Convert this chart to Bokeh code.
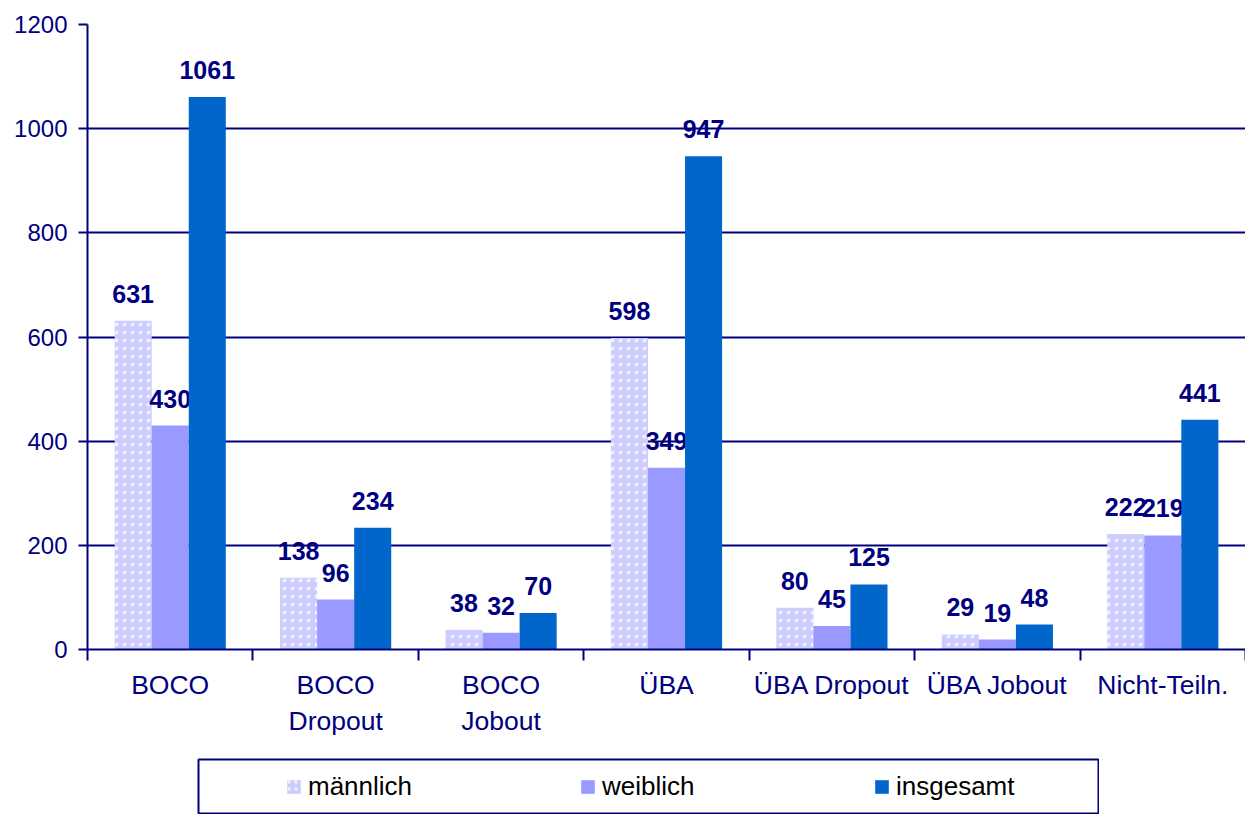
from bokeh.plotting import figure
from bokeh.models import ColumnDataSource, FixedTicker, Range1d, Legend, LegendItem, Spacer
from bokeh.layouts import column, row
from bokeh.embed import file_html
from bokeh.resources import INLINE
from bokeh.core.properties import value

# ---------------- data ----------------
categories = ["BOCO", "BOCO\nDropout", "BOCO\nJobout", "ÜBA", "ÜBA Dropout", "ÜBA Jobout", "Nicht-Teiln."]
maennlich = [631, 138, 38, 598, 80, 29, 222]
weiblich = [430, 96, 32, 349, 45, 19, 219]
insgesamt = [1061, 234, 70, 947, 125, 48, 441]
series_names = ["männlich", "weiblich", "insgesamt"]
y_ticks = [0, 200, 400, 600, 800, 1000, 1200]

# ---------------- style ----------------
NAVY = "#000080"
COLORS = ["#CCCCFF", "#9999FF", "#0066CC"]
FONT = "Liberation Sans"
BAR_W = 0.224
OFFSETS = [-BAR_W, 0.0, BAR_W]
HATCH = dict(hatch_pattern="dot", hatch_color="white", hatch_scale=8, hatch_weight=1.0, hatch_alpha=0.7)

centers = [i + 0.5 for i in range(len(categories))]

p = figure(width=1245, height=758, output_backend="svg", toolbar_location=None,
           x_range=Range1d(0, len(categories)), y_range=Range1d(0, 1200),
           min_border_left=87, min_border_right=0, min_border_top=24, min_border_bottom=109)
p.outline_line_color = None
p.background_fill_color = "white"
p.border_fill_color = "white"

series = [maennlich, weiblich, insgesamt]
for k, vals in enumerate(series):
    xs = [c + OFFSETS[k] for c in centers]
    src = ColumnDataSource(dict(x=xs, top=vals, lab=[str(v) for v in vals]))
    kw = HATCH if k == 0 else {}
    p.vbar(x="x", top="top", width=BAR_W, source=src, fill_color=COLORS[k], line_color=None, **kw)
    p.text(x="x", y="top", text="lab", source=src, text_align="center", text_baseline="alphabetic",
           y_offset=-27, text_font=value(FONT), text_font_size="25px", text_font_style="bold",
           text_color=NAVY)

# x axis: labels at centers, minor ticks at category boundaries
xa = p.xaxis[0]
xa.ticker = FixedTicker(ticks=centers, minor_ticks=list(range(len(categories) + 1)))
xa.major_label_overrides = {c: lab for c, lab in zip(centers, categories)}
xa.major_tick_line_color = None
xa.minor_tick_out = 11
xa.minor_tick_in = 0
xa.minor_tick_line_color = NAVY
xa.minor_tick_line_width = 2
xa.axis_line_color = NAVY
xa.axis_line_width = 2
xa.major_label_text_color = NAVY
xa.major_label_text_font = FONT
xa.major_label_text_font_size = "26.5px"
xa.major_label_standoff = 9
xa.major_label_orientation = "horizontal"

ya = p.yaxis[0]
ya.ticker = FixedTicker(ticks=y_ticks, minor_ticks=[])
ya.major_tick_out = 9
ya.major_tick_in = 0
ya.major_tick_line_color = NAVY
ya.major_tick_line_width = 2
ya.axis_line_color = NAVY
ya.axis_line_width = 2
ya.major_label_text_color = NAVY
ya.major_label_text_font = FONT
ya.major_label_text_font_size = "24px"
ya.major_label_standoff = 11

p.xgrid.grid_line_color = None
p.ygrid.ticker = FixedTicker(ticks=y_ticks)
p.ygrid.grid_line_color = NAVY
p.ygrid.grid_line_width = 2

# ---------------- legend panel ----------------
p2 = figure(width=902, height=56, output_backend="svg", toolbar_location=None,
            x_range=Range1d(0, 1), y_range=Range1d(0, 1), x_axis_type=None, y_axis_type=None,
            min_border_left=1, min_border_right=1, min_border_top=1, min_border_bottom=1)
p2.outline_line_color = NAVY
p2.outline_line_width = 2
p2.xgrid.visible = False
p2.ygrid.visible = False
items = []
for k, name in enumerate(series_names):
    kw = dict(HATCH, hatch_scale=7) if k == 0 else {}
    # zero-height placeholder bar outside the visible range; only its legend swatch is shown
    r = p2.vbar(x=[-5], top=[0], width=0.1, fill_color=COLORS[k], line_color=None, **kw)
    items.append(LegendItem(label=name, renderers=[r]))
leg = Legend(items=items, orientation="horizontal", location=(87, 11),
             border_line_color=None, background_fill_alpha=0, padding=0, margin=0, spacing=0,
             glyph_width=17, glyph_height=17, label_standoff=6, label_width=271,
             label_text_font=FONT, label_text_font_size="26px", label_text_color="black")
p2.add_layout(leg, "center")

layout = column(p, row(Spacer(width=197, height=56), p2))
open("out.html", "w").write(file_html(layout, INLINE))
